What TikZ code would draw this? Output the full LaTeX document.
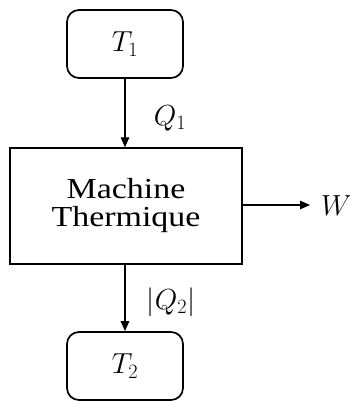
\RequirePackage{fix-cm}
\documentclass[tikz,border=0pt]{standalone}
\usepackage{fontspec}
\newfontfamily\boxfont{Liberation Serif}
\usetikzlibrary{arrows.meta}
\newcommand{\widetext}[1]{\scalebox{1.17}[1]{#1}}
\begin{document}
\begin{tikzpicture}[x=1pt,y=-1pt,
  reservoir/.style={draw, line width=1.7pt, rounded corners=12pt,
    minimum width=116pt, minimum height=68pt, inner sep=0pt,
    font=\fontsize{29}{32}\selectfont},
  engine/.style={draw, line width=1.4pt, minimum width=232pt,
    minimum height=116pt, inner sep=0pt, align=center,
    font=\boxfont\fontsize{29}{28}\selectfont},
  flow/.style={line width=1.2pt, -{Triangle[length=10pt,width=8.5pt]}},
  lbl/.style={inner sep=0pt, font=\fontsize{29}{32}\selectfont}]
  \useasboundingbox (0,0) rectangle (350,401);

  \node[reservoir] (T1) at (125,44) {$T_1$};
  \node[engine] (M) at (126,206) {\widetext{Machine}\\\widetext{Thermique}};
  \node[reservoir] (T2) at (125,366) {$T_2$};

  \coordinate (Wend) at (310,205);
  \node[lbl, anchor=west] (W) at (321,206) {$W$};
  \node[lbl] (Q1) at (170,118) {$Q_1$};
  \node[lbl] (Q2) at (171,302) {$|Q_2|$};

  \draw[flow] (T1.south) -- (T1.south |- M.north);
  \draw[flow] (M.south -| T2.north) -- (T2.north);
  \draw[flow] (M.east |- Wend) -- (Wend);
\end{tikzpicture}
\end{document}
